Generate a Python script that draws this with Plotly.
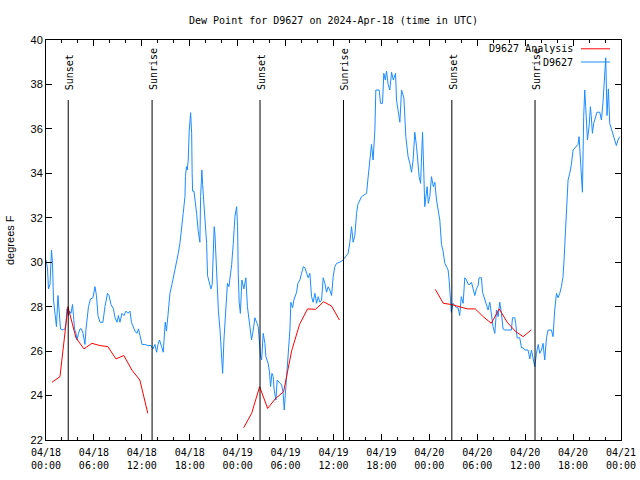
import plotly.graph_objects as go
import pandas as pd

START = pd.Timestamp("2024-04-18 00:00")

# ---- D9627 observations (hours since 2024-04-18 00:00 UTC, dew point F)
obs_hours = [
    0.00, 0.19, 0.31, 0.50, 0.69, 0.81, 0.94, 1.13, 1.31, 1.50, 1.69, 1.82, 2.13, 2.38, 2.50, 2.63,
    2.82, 2.94, 3.13, 3.32, 3.44, 3.57, 3.76, 3.88, 4.07, 4.26, 4.44, 4.63, 4.88, 5.01, 5.32, 5.57,
    5.88, 6.13, 6.32, 6.51, 6.76, 7.13, 7.38, 7.70, 7.89, 8.14, 8.45, 8.64, 8.89, 9.07, 9.26, 9.51,
    9.76, 10.01, 10.27, 10.52, 10.70, 10.95, 11.14, 11.39, 11.58, 11.77, 12.02, 12.39, 12.77, 13.14,
    13.39, 13.64, 13.85, 14.02, 14.21, 14.48, 14.68, 14.93, 15.08, 15.27, 15.27, 15.52, 15.77, 16.02,
    16.21, 16.36, 16.56, 16.77, 16.98, 17.18, 17.40, 17.46, 17.59, 17.69, 17.81, 17.93, 18.11, 18.24,
    18.30, 18.36, 18.53, 18.65, 18.86, 19.06, 19.27, 19.36, 19.52, 19.61, 19.77, 19.90, 20.11, 20.23,
    20.43, 20.65, 20.81, 20.93, 21.06, 21.15, 21.28, 21.44, 21.59, 21.78, 21.97, 22.12, 22.28, 22.47,
    22.72, 22.91, 23.25, 23.45, 23.66, 23.87, 23.99, 24.07, 24.19, 24.34, 24.53, 24.78, 25.03, 25.22,
    25.53, 25.74, 25.95, 26.16, 26.37, 26.57, 26.70, 26.85, 27.00, 27.20, 27.41, 27.53, 27.82, 27.97,
    28.12, 28.29, 28.45, 28.57, 28.79, 28.95, 29.29, 29.50, 29.70, 29.83, 30.04, 30.33, 30.54, 30.66,
    30.88, 31.04, 31.38, 31.54, 31.79, 32.00, 32.23, 32.42, 32.63, 32.83, 33.04, 33.25, 33.45, 33.67,
    33.88, 34.08, 34.29, 34.51, 34.71, 34.92, 35.13, 35.33, 35.54, 35.76, 35.96, 36.17, 36.38, 36.80,
    37.21, 37.42, 37.83, 38.05, 38.26, 38.46, 38.67, 38.89, 39.05, 39.51, 39.74, 40.14, 40.30, 40.55,
    40.76, 40.96, 41.18, 41.30, 41.72, 41.89, 42.14, 42.30, 42.49, 42.64, 42.84, 43.05, 43.27, 43.49,
    43.77, 43.89, 44.06, 44.31, 44.52, 44.81, 45.06, 45.34, 45.56, 45.77, 45.97, 46.18, 46.40, 46.72,
    46.90, 47.15, 47.31, 47.43, 47.72, 47.87, 48.06, 48.27, 48.50, 48.69, 48.90, 49.10, 49.31, 49.52,
    49.72, 49.94, 50.15, 50.35, 50.48, 50.60, 50.75, 50.98, 51.40, 51.60, 51.81, 52.00, 52.23, 52.44,
    52.65, 52.88, 53.07, 53.28, 53.48, 53.69, 53.90, 54.11, 54.23, 54.53, 54.66, 54.94, 55.07, 55.36,
    55.57, 55.78, 55.98, 56.20, 56.41, 56.61, 56.82, 57.03, 57.23, 57.45, 58.28, 58.41, 58.70, 58.82,
    58.99, 59.32, 59.54, 59.74, 59.95, 60.36, 60.58, 60.79, 60.99, 61.20, 61.41, 61.64, 61.83, 62.04,
    62.24, 62.45, 62.67, 62.87, 63.29, 63.49, 63.70, 63.92, 64.12, 64.33, 64.54, 64.74, 64.87, 65.08,
    65.21, 65.37, 65.58, 65.79, 66.00, 66.21, 66.42, 66.62, 66.75, 66.92, 67.05, 67.17, 67.33, 67.46,
    67.58, 67.67, 67.80, 68.00, 68.17, 68.27, 68.42, 68.58, 68.84, 69.00, 69.34, 69.55, 69.75, 69.96,
    70.09, 70.25, 70.42, 70.59, 70.80, 71.00, 71.21, 71.42, 71.62, 71.84,
]
obs_dewpt = [
    30.1, 29.7, 28.8, 29.0, 30.55, 30.0, 28.3, 27.5, 27.1, 28.5, 27.3, 27.0, 26.95, 27.0, 27.3, 27.9,
    27.6, 27.8, 27.7, 28.1, 27.6, 27.0, 26.8, 26.5, 26.8, 27.0, 27.0, 26.8, 26.3, 27.0, 28.0, 28.35,
    28.4, 28.9, 28.5, 27.6, 27.3, 27.3, 28.0, 28.6, 28.5, 28.1, 27.9, 27.5, 27.3, 27.6, 27.3, 27.7,
    27.6, 27.8, 27.7, 27.8, 27.3, 27.1, 26.9, 26.8, 27.0, 26.7, 26.3, 26.3, 26.25, 26.25,
    26.1, 26.3, 25.95, 26.3, 26.5, 26.2, 25.95, 27.3, 26.9, 27.6, 27.6, 28.6, 29.0, 29.4,
    29.7, 30.0, 30.4, 30.85, 31.45, 32.2, 32.95, 33.85, 34.3, 34.15, 34.6, 35.9, 36.73, 35.8,
    34.0, 33.2, 33.2, 32.7, 32.2, 31.4, 30.9, 32.95, 34.15, 33.5, 32.6, 31.75, 30.85, 29.4,
    29.1, 28.8, 29.0, 30.7, 31.6, 31.3, 30.0, 28.8, 27.8, 27.0, 26.0, 25.0, 26.5, 27.8,
    29.05, 28.9, 29.9, 30.85, 32.05, 32.5, 31.6, 29.5, 28.2, 27.7, 29.2, 28.8, 29.3, 28.0,
    27.0, 26.5, 26.95, 27.5, 27.3, 27.1, 26.5, 25.8, 25.6, 26.8, 26.35, 25.75, 25.45, 25.1,
    24.4, 25.0, 24.85, 24.25, 23.8, 24.7, 24.55, 24.5, 24.1, 23.35, 24.4, 25.75, 26.95, 28.2,
    27.95, 28.3, 28.65, 29.05, 29.2, 29.5, 29.8, 29.75, 29.55, 29.3, 29.5, 28.45, 28.2, 28.6,
    28.15, 28.45, 28.2, 28.3, 29.3, 29.05, 28.65, 28.9, 28.75, 28.5, 29.35, 29.8, 29.95, 30.0,
    30.1, 30.2, 30.4, 30.9, 31.6, 30.9, 31.2, 32.2, 32.6, 32.95, 33.0, 33.1, 33.7, 34.6,
    35.3, 34.6, 35.95, 37.75, 37.75, 37.15, 37.15, 38.5, 38.2, 38.6, 38.0, 37.75, 38.55, 38.2,
    38.5, 37.3, 36.85, 36.3, 37.75, 37.4, 35.65, 34.75, 34.45, 34.05, 34.6, 35.85, 35.2, 33.85,
    33.55, 35.85, 34.0, 32.5, 33.4, 32.65, 32.95, 33.85, 33.4, 33.6, 32.8, 32.35, 31.9, 30.8,
    30.5, 29.95, 29.8, 29.65, 29.2, 28.5, 27.75, 28.15, 27.95, 27.95, 27.6, 28.45, 28.15, 29.3,
    29.2, 29.0, 29.0, 29.1, 28.75, 28.5, 28.8, 28.95, 29.3, 29.3, 28.65, 28.3, 28.2, 27.85,
    28.2, 27.55, 27.1, 26.8, 27.85, 27.55, 28.2, 27.7, 27.0, 26.95, 26.95, 27.5, 27.5, 27.25,
    26.6, 26.6, 26.15, 26.15, 26.05, 26.05, 25.65, 26.05, 25.6, 25.3, 25.9, 26.3, 25.9, 26.05,
    26.35, 25.6, 26.6, 26.95, 26.95, 26.65, 27.85, 28.6, 28.4, 28.6, 28.9, 29.35, 30.1, 31.5,
    32.4, 33.7, 34.0, 34.4, 35.05, 35.15, 35.2, 35.3, 35.65, 34.5, 33.55, 33.15, 36.55, 37.75,
    37.0, 36.55, 35.5, 36.1, 37.0, 36.6, 35.8, 36.25, 36.55, 36.75, 36.75, 36.4, 37.2, 38.7,
    39.2, 36.6, 37.8, 36.25, 35.95, 35.7, 35.5, 35.25, 35.5, 35.65,
]

# ---- D9627 Analysis (hourly, three daily runs)
ana_hours_1 = [0.75, 1.75, 2.75, 3.75, 4.75, 5.75, 6.75, 7.75, 8.75, 9.75, 10.75, 11.75, 12.75]
ana_dewpt_1 = [24.6, 24.85, 28.0, 26.6, 26.1, 26.35, 26.25, 26.2, 25.65, 25.8, 25.15, 24.7, 23.2]
ana_hours_2 = [24.75, 25.75, 26.75, 27.75, 28.75, 29.75, 30.75, 31.75, 32.75, 33.75, 34.75, 35.75, 36.75]
ana_dewpt_2 = [22.55, 23.2, 24.4, 23.42, 23.87, 24.17, 26.0, 27.2, 27.9, 27.88, 28.22, 28.03, 27.4]
ana_hours_3 = [48.75, 49.75, 50.75, 51.75, 52.75, 53.75, 54.75, 55.75, 56.75, 57.75, 58.75, 59.75, 60.75]
ana_dewpt_3 = [28.78, 28.15, 28.1, 28.0, 27.9, 27.9, 27.55, 27.25, 27.9, 27.3, 26.9, 26.65, 26.95]

# ---- Sun events
event_times = ["2024-04-18 02:47", "2024-04-18 13:17", "2024-04-19 02:48",
               "2024-04-19 13:15", "2024-04-20 02:49", "2024-04-20 13:14"]
event_labels = ["Sunset", "Sunrise", "Sunset", "Sunrise", "Sunset", "Sunrise"]

# ---- Axis ticks
tick_hours = [0, 6, 12, 18, 24, 30, 36, 42, 48, 54, 60, 66, 72]
tick_text = ["04/18<br>00:00", "04/18<br>06:00", "04/18<br>12:00", "04/18<br>18:00",
             "04/19<br>00:00", "04/19<br>06:00", "04/19<br>12:00", "04/19<br>18:00",
             "04/20<br>00:00", "04/20<br>06:00", "04/20<br>12:00", "04/20<br>18:00",
             "04/21<br>00:00"]
minor_hours = list(range(0, 73, 2))


def to_time(hours):
    return [START + pd.Timedelta(hours=h) for h in hours]


ana_x = to_time(ana_hours_1) + [None] + to_time(ana_hours_2) + [None] + to_time(ana_hours_3)
ana_y = ana_dewpt_1 + [None] + ana_dewpt_2 + [None] + ana_dewpt_3

MONO = "DejaVu Sans Mono"
SANS = "Liberation Sans"
RED = "#ff0000"
BLUE = "#1a8cff"

fig = go.Figure()
fig.add_trace(go.Scatter(x=to_time(obs_hours), y=obs_dewpt, mode="lines",
                         line=dict(color=BLUE, width=1), name="D9627", showlegend=False))
fig.add_trace(go.Scatter(x=ana_x, y=ana_y, mode="lines", connectgaps=False,
                         line=dict(color=RED, width=1), name="D9627 Analysis", showlegend=False))

shapes = []
annotations = []
for t, lab in zip(event_times, event_labels):
    shapes.append(dict(type="line", xref="x", yref="paper", x0=t, x1=t, y0=0, y1=0.85,
                       line=dict(color="black", width=1)))
    annotations.append(dict(x=t, y=0.87, xref="x", yref="paper", text=lab, textangle=-90,
                            showarrow=False, xanchor="center", yanchor="bottom", xshift=1,
                            font=dict(family=MONO, size=10, color="black")))

# legend (gnuplot style: text then sample on the right)
legend_rows = [("D9627 Analysis", RED, 0.978), ("D9627", BLUE, 0.945)]
for text, col, yy in legend_rows:
    annotations.append(dict(x=0.92, y=yy, xref="paper", yref="paper", text=text,
                            showarrow=False, xanchor="right", yanchor="middle",
                            font=dict(family=MONO, size=10, color="black")))
    shapes.append(dict(type="line", xref="paper", yref="paper", x0=0.9304, x1=0.981,
                       y0=yy, y1=yy, line=dict(color=col, width=1)))

annotations.append(dict(x=-0.0626, y=0.5, xref="paper", yref="paper", text="degrees F",
                        textangle=-90, showarrow=False, xanchor="center", yanchor="middle",
                        font=dict(family=SANS, size=11, color="black")))

fig.update_layout(
    width=640, height=480,
    margin=dict(l=46, r=19, t=40, b=40, autoexpand=False),
    paper_bgcolor="white", plot_bgcolor="white",
    title=dict(text="Dew Point for D9627 on 2024-Apr-18 (time in UTC)",
               x=0.5, xref="paper", xanchor="center", y=1 - 20 / 480, yanchor="middle",
               font=dict(family=MONO, size=10, color="black")),
    shapes=shapes, annotations=annotations, showlegend=False,
)
fig.update_xaxes(
    range=[START, START + pd.Timedelta(hours=72)], automargin=False,
    tickmode="array", tickvals=to_time(tick_hours), ticktext=tick_text,
    ticks="inside", ticklen=6, tickcolor="black", tickwidth=1, ticklabelstandoff=3,
    showline=True, linecolor="black", linewidth=1, mirror="ticks",
    showgrid=False, zeroline=False,
    tickfont=dict(family=MONO, size=10, color="black"),
    minor=dict(tickmode="array", tickvals=to_time(minor_hours), ticks="inside",
               ticklen=3, tickcolor="black", showgrid=False),
)
fig.update_yaxes(
    range=[22, 40], dtick=2, tick0=22, automargin=False,
    ticks="inside", ticklen=6, tickcolor="black", tickwidth=1,
    showline=True, linecolor="black", linewidth=1, mirror="ticks",
    showgrid=False, zeroline=False,
    tickfont=dict(family=SANS, size=11, color="black"),
)

fig.write_html("out.html", config={"displayModeBar": False},
               post_script="document.body.style.margin='0px';document.body.style.padding='0px';")
